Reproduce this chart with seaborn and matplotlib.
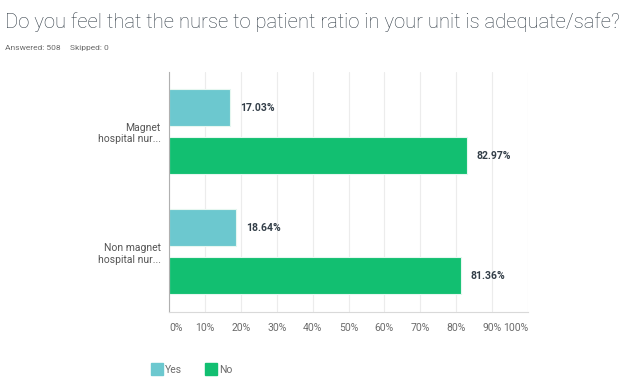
import matplotlib
matplotlib.use("Agg")
import matplotlib.pyplot as plt
import seaborn as sns
import pandas as pd
from matplotlib.lines import Line2D

categories = ["Magnet\nhospital nur...", "Non magnet\nhospital nur..."]
answers = ["Yes", "No"]
yes_values = [17.03, 18.64]
no_values = [82.97, 81.36]
x_ticks = [0, 10, 20, 30, 40, 50, 60, 70, 80, 90, 100]
x_tick_labels = [f"{t}%" for t in x_ticks]
colors = {"Yes": "#6cc8cf", "No": "#12bf71"}

rows = []
for c, y, n in zip(categories, yes_values, no_values):
    rows.append({"cat": c, "answer": "Yes", "pct": y})
    rows.append({"cat": c, "answer": "No", "pct": n})
df = pd.DataFrame(rows)

sns.set_theme(style="white")
plt.rcParams["font.family"] = ["Roboto", "DejaVu Sans"]

fig = plt.figure(figsize=(6.43, 3.92), dpi=100)
ax = fig.add_axes([169/643, 1-312/392, (528-169)/643, (312-71.7)/392])

sns.barplot(data=df, y="cat", x="pct", hue="answer", hue_order=answers,
            palette=colors, saturation=1, orient="h", width=0.8, gap=0.23, ax=ax,
            edgecolor="#e6f7f0", linewidth=0.8, legend=False)

ax.set_xlim(0, 100)
ax.set_ylim(1.5, -0.5)
ax.set_xticks(x_ticks)
ax.set_xticklabels(x_tick_labels)
for i, lab in enumerate(ax.get_xticklabels()):
    if i == 0:
        lab.set_ha("left")
    elif i == len(x_ticks) - 1:
        lab.set_ha("right")
ax.tick_params(axis="x", length=0, pad=8, labelsize=7.5, labelcolor="#6b6b6b")
ax.tick_params(axis="y", length=0, pad=6, labelsize=7.5, labelcolor="#555555")
for lab in ax.get_yticklabels():
    lab.set_ha("right")
    lab.set_multialignment("right")
ax.set_xlabel("")
ax.set_ylabel("")
ax.grid(axis="x", color="#ececec", linewidth=0.8)
ax.set_axisbelow(True)
for s in ["top", "right"]:
    ax.spines[s].set_visible(False)
ax.spines["left"].set_color("#b0b0b0")
ax.spines["left"].set_linewidth(0.8)
ax.spines["bottom"].set_color("#d9d9d9")
ax.spines["bottom"].set_linewidth(0.8)

for cont in ax.containers:
    ax.bar_label(cont, labels=[f"{v:.2f}%" for v in cont.datavalues],
                 padding=7, fontsize=7.5, color="#333e48", fontweight="bold")

fig.text(5/643, 1-22/392, "Do you feel that the nurse to patient ratio in your unit is adequate/safe?",
         fontsize=14.6, color="#333e48", va="center", ha="left", fontweight="light")
fig.text(5/643, 1-48/392, "Answered: 508", fontsize=6.0, color="#6b6b6b", va="center", ha="left")
fig.text(70/643, 1-48/392, "Skipped: 0", fontsize=6.0, color="#6b6b6b", va="center", ha="left")

handles = [Line2D([0], [0], marker="s", linestyle="none", markersize=8.5,
                  markerfacecolor=colors[a], markeredgecolor=colors[a]) for a in answers]
fig.legend(handles, answers, loc="center", bbox_to_anchor=(192/643, 1-370/392),
           ncol=2, frameon=False, fontsize=7.5, labelcolor="#6b6b6b",
           handletextpad=0.3, columnspacing=2.2, handlelength=1.0)

fig.savefig("out.png", dpi=100)
